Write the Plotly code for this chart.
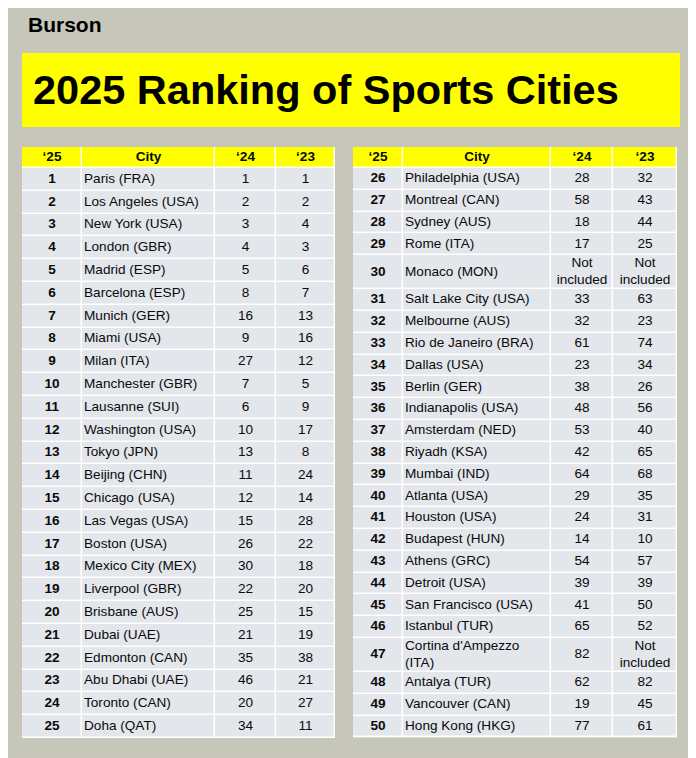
import plotly.graph_objects as go

rank_a = list(range(1, 26))
city_a = ["Paris (FRA)", "Los Angeles (USA)", "New York (USA)", "London (GBR)", "Madrid (ESP)",
          "Barcelona (ESP)", "Munich (GER)", "Miami (USA)", "Milan (ITA)", "Manchester (GBR)",
          "Lausanne (SUI)", "Washington (USA)", "Tokyo (JPN)", "Beijing (CHN)", "Chicago (USA)",
          "Las Vegas (USA)", "Boston (USA)", "Mexico City (MEX)", "Liverpool (GBR)", "Brisbane (AUS)",
          "Dubai (UAE)", "Edmonton (CAN)", "Abu Dhabi (UAE)", "Toronto (CAN)", "Doha (QAT)"]
r24_a = [1, 2, 3, 4, 5, 8, 16, 9, 27, 7, 6, 10, 13, 11, 12, 15, 26, 30, 22, 25, 21, 35, 46, 20, 34]
r23_a = [1, 2, 4, 3, 6, 7, 13, 16, 12, 5, 9, 17, 8, 24, 14, 28, 22, 18, 20, 15, 19, 38, 21, 27, 11]

rank_b = list(range(26, 51))
city_b = ["Philadelphia (USA)", "Montreal (CAN)", "Sydney (AUS)", "Rome (ITA)", "Monaco (MON)",
          "Salt Lake City (USA)", "Melbourne (AUS)", "Rio de Janeiro (BRA)", "Dallas (USA)", "Berlin (GER)",
          "Indianapolis (USA)", "Amsterdam (NED)", "Riyadh (KSA)", "Mumbai (IND)", "Atlanta (USA)",
          "Houston (USA)", "Budapest (HUN)", "Athens (GRC)", "Detroit (USA)", "San Francisco (USA)",
          "Istanbul (TUR)", "Cortina d'Ampezzo<br>(ITA)", "Antalya (TUR)", "Vancouver (CAN)", "Hong Kong (HKG)"]
r24_b = [28, 58, 18, 17, "Not<br>included", 33, 32, 61, 23, 38, 48, 53, 42, 64, 29, 24, 14, 54, 39, 41,
         65, 82, 62, 19, 77]
r23_b = [32, 43, 44, 25, "Not<br>included", 63, 23, 74, 34, 26, 56, 40, 65, 68, 35, 31, 10, 57, 39, 50,
         52, "Not<br>included", 82, 45, 61]

headers = ["‘25", "City", "‘24", "‘23"]
FONT = "Arial, Liberation Sans, sans-serif"
W, H = 688, 750  # browser body margin shifts the page by 8px
OFF = 8


def edges(sizes):
    out = [0]
    for s in sizes:
        out.append(out[-1] + s)
    return out


def add_table(fig, n, ranks, cities, r24, r23, px0, px1, widths, row_h):
    heights = [21] + [34 if "<br>" in str(a) + str(b) + str(c) else row_h
                      for a, b, c in zip(cities, r24, r23)]
    ye = edges(heights)
    xe = edges(widths)
    z = [[1] * 4] + [[0] * 4 for _ in ranks]
    fig.add_trace(go.Heatmap(x=xe, y=ye, z=z, zmin=0, zmax=1, showscale=False, hoverinfo="skip",
                             colorscale=[[0, "#e3e6ea"], [1, "#ffff00"]], xgap=1.5, ygap=1.5,
                             xaxis=f"x{n}", yaxis=f"y{n}"))
    yc = [(ye[i] + ye[i + 1]) / 2 for i in range(len(heights))]
    xc = [(xe[i] + xe[i + 1]) / 2 for i in range(4)]
    cols = [[f"<b>{r}</b>" for r in ranks], cities, r24, r23]
    for j, col in enumerate(cols):
        left = j == 1
        fig.add_trace(go.Scatter(
            x=[xc[j]] + [xe[j] + 2 if left else xc[j]] * len(col), y=yc,
            text=[f"<b>{headers[j]}</b>"] + [str(v) for v in col],
            mode="text", textposition=["middle center"] + ["middle right" if left else "middle center"] * len(col),
            textfont=dict(family=FONT, size=13.6, color="#0a0a0a"), hoverinfo="skip",
            xaxis=f"x{n}", yaxis=f"y{n}"))
    top = 147 - OFF
    bot = top + ye[-1]
    ax = dict(domain=[(px0 - OFF) / W, (px1 - OFF) / W], range=[0, xe[-1]], visible=False, fixedrange=True)
    ay = dict(domain=[1 - bot / H, 1 - top / H], range=[ye[-1], 0], visible=False, fixedrange=True)
    fig.update_layout(**{f"xaxis{n}": ax, f"yaxis{n}": ay})


fig = go.Figure()
add_table(fig, "", rank_a, city_a, r24_a, r23_a, 22, 335, [60, 133, 61, 59], 22.8)
add_table(fig, "2", rank_b, city_b, r24_b, r23_b, 353, 677, [50, 148, 62, 64], 21.8)
fig.update_layout(xaxis2=dict(anchor="y2"), yaxis2=dict(anchor="x2"))

fig.add_shape(type="rect", xref="paper", yref="paper", x0=(22 - OFF) / W, x1=(680 - OFF) / W,
              y0=1 - (127 - OFF) / H, y1=1 - (53 - OFF) / H, fillcolor="#ffff00", line_width=0, layer="below")
fig.add_annotation(text="<b>2025 Ranking of Sports Cities</b>", xref="paper", yref="paper",
                   x=(31 - OFF) / W, y=1 - (90 - OFF) / H, xanchor="left", yanchor="middle", showarrow=False,
                   font=dict(family=FONT, size=41.5, color="black"))
fig.add_annotation(text="<b>Burson</b>", xref="paper", yref="paper",
                   x=(26 - OFF) / W, y=1 - (25 - OFF) / H, xanchor="left", yanchor="middle", showarrow=False,
                   font=dict(family=FONT, size=21, color="black"))

fig.update_layout(width=W, height=H, autosize=False, margin=dict(l=0, r=0, t=0, b=0),
                  paper_bgcolor="#c6c6ba", plot_bgcolor="white", showlegend=False)
fig.write_html("out.html")
